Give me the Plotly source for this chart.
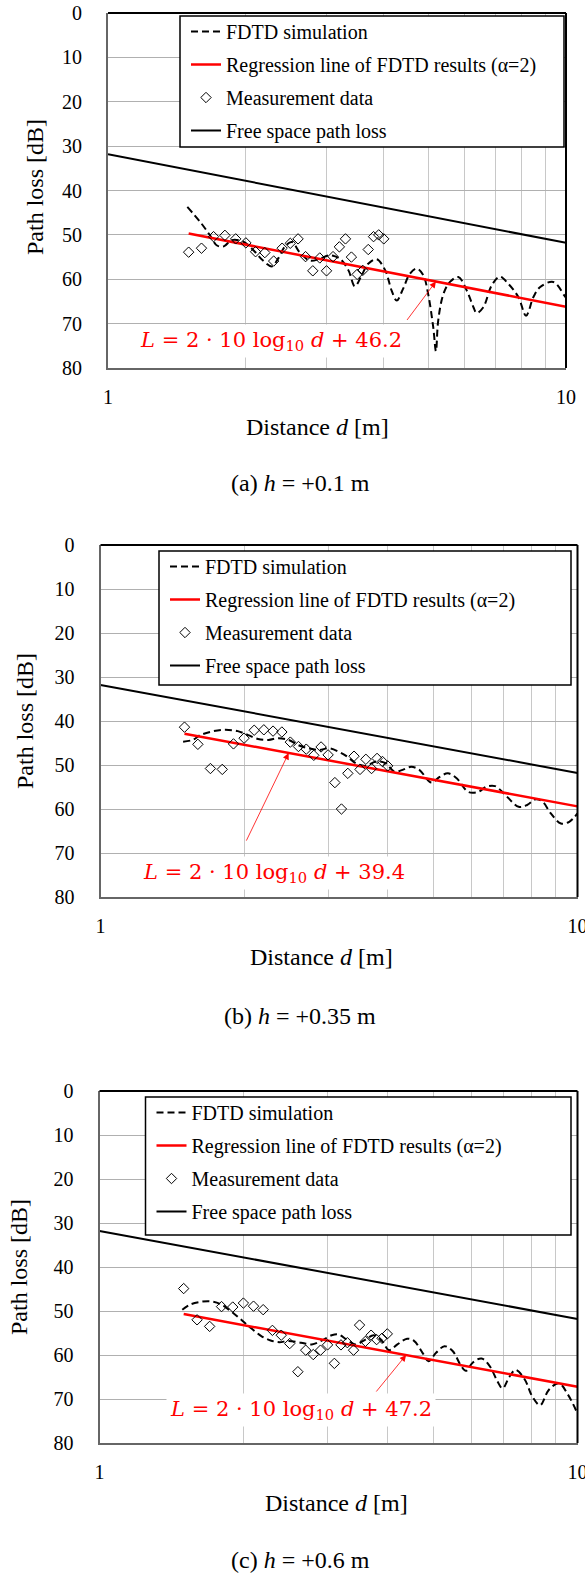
import numpy as np
import plotly.graph_objects as go

W, H = 585, 1574
FONTE = 'Liberation Serif, Times New Roman, serif'

# distancias das medicoes (iguais nos tres graficos)
d_medicao = [1.5, 1.6, 1.7, 1.8, 1.9, 2.0, 2.1, 2.2, 2.3, 2.4, 2.5, 2.6, 2.7,
             2.8, 2.9, 3.0, 3.1, 3.2, 3.3, 3.4, 3.5, 3.6, 3.7, 3.8, 3.9, 4.0]

# (a) h = +0.1 m
med_a = [53.9, 53.0, 50.4, 50.1, 50.9, 51.8, 53.8, 54.0, 55.9, 53.0, 51.9, 50.9, 54.9,
         58.1, 55.2, 58.1, 54.9, 52.7, 50.9, 55.0, 58.9, 58.0, 53.3, 50.4, 50.0, 50.9]
fdtd_a_d = [1.49, 1.59, 1.67, 1.73, 1.79, 1.86, 1.97, 2.08, 2.18, 2.28, 2.35, 2.43, 2.52,
            2.62, 2.76, 2.90, 3.05, 3.21, 3.35, 3.46, 3.58, 3.70, 3.86, 4.03, 4.16, 4.27,
            4.41, 4.56, 4.72, 4.88, 5.00, 5.13, 5.20, 5.26, 5.40, 5.58, 5.82, 6.07, 6.28,
            6.38, 6.60, 6.88, 7.17, 7.48, 7.87, 8.18, 8.49, 8.77, 9.38, 9.92, 10.0]
fdtd_a_L = [43.7, 47.1, 50.1, 52.4, 52.6, 51.2, 51.5, 53.5, 55.8, 57.1, 55.4, 52.7, 51.6,
            53.9, 55.8, 55.4, 54.6, 55.4, 58.0, 61.6, 59.1, 56.5, 55.5, 58.0, 62.5, 64.8,
            62.1, 58.8, 57.6, 59.1, 63.3, 70.8, 76.2, 69.3, 63.3, 60.6, 59.5, 62.5, 66.3,
            67.6, 66.3, 61.4, 59.4, 61.0, 64.0, 68.2, 64.0, 61.8, 60.6, 63.7, 64.2]

# (b) h = +0.35 m
med_b = [41.4, 45.3, 50.8, 51.0, 45.2, 43.9, 42.1, 42.0, 42.3, 42.5, 44.8, 45.8, 46.4,
         47.8, 45.9, 47.7, 54.0, 60.0, 51.9, 48.0, 51.0, 48.7, 50.8, 48.5, 49.2, 50.2]
fdtd_b_d = [1.49, 1.56, 1.62, 1.71, 1.82, 1.94, 2.04, 2.14, 2.25, 2.36, 2.48, 2.60, 2.73,
            2.87, 3.01, 3.16, 3.29, 3.43, 3.60, 3.78, 3.96, 4.13, 4.30, 4.48, 4.66, 4.94,
            5.14, 5.35, 5.58, 5.90, 6.19, 6.45, 6.72, 7.00, 7.53, 7.84, 8.17, 8.44, 8.79,
            9.23, 9.61, 10.0]
fdtd_b_L = [44.7, 44.3, 43.2, 42.4, 42.0, 42.3, 43.2, 44.1, 44.3, 43.9, 44.3, 45.5, 46.2,
            46.6, 46.2, 47.0, 48.1, 49.6, 50.2, 49.2, 49.6, 51.5, 51.1, 50.4, 51.1, 54.0,
            52.7, 51.9, 53.0, 56.1, 56.1, 54.9, 54.8, 56.4, 59.5, 59.1, 57.8, 58.3, 61.0,
            63.3, 62.9, 61.0]

# (c) h = +0.6 m
med_c = [44.9, 52.0, 53.5, 49.0, 49.1, 48.2, 48.9, 49.7, 54.4, 55.5, 57.4, 63.8, 58.9,
         59.9, 58.9, 57.7, 61.9, 57.7, 57.2, 58.9, 53.2, 56.9, 55.5, 56.5, 56.2, 55.2]
fdtd_c_d = [1.49, 1.55, 1.63, 1.71, 1.79, 1.88, 1.97, 2.07, 2.18, 2.28, 2.38, 2.48, 2.64,
            2.78, 2.91, 3.06, 3.16, 3.29, 3.43, 3.60, 3.75, 3.90, 4.03, 4.20, 4.40, 4.55,
            4.74, 4.88, 5.06, 5.27, 5.48, 5.71, 5.84, 6.04, 6.30, 6.55, 6.80, 6.97, 7.20,
            7.42, 7.75, 8.05, 8.35, 8.70, 9.14, 9.55, 10.0]
fdtd_c_L = [49.7, 48.5, 47.9, 47.8, 48.4, 50.0, 51.8, 53.8, 55.7, 56.7, 57.1, 56.8, 57.2,
            57.6, 56.8, 55.5, 55.3, 56.5, 57.6, 56.5, 55.5, 56.8, 58.9, 57.6, 56.3, 56.8,
            59.5, 61.4, 59.5, 58.0, 59.1, 62.5, 63.6, 61.7, 60.8, 62.5, 66.0, 67.6, 65.0,
            63.4, 65.5, 69.5, 71.4, 68.0, 66.4, 69.0, 73.3]

# retas de regressao (alpha=2) e perda no espaco livre
reg_d = [1.5, 10.0]
reg_a = [49.7, 66.2]
reg_b = [42.9, 59.4]
reg_c = [50.7, 67.2]
livre_d = [1.0, 10.0]
livre_L = [31.8, 51.8]

formulas = ['46.2', '39.4', '47.2']
legendas = ['(a) <i>h</i> = +0.1 m', '(b) <i>h</i> = +0.35 m', '(c) <i>h</i> = +0.6 m']

# caixas em pixels: (esq, dir, topo, base)
caixas = [(108, 566, 13, 368), (100.5, 577.5, 545, 897), (99.5, 577.5, 1091, 1443)]
caixas_legenda = [(180, 564, 16, 147), (159, 571, 551, 685), (145.5, 571, 1097, 1235)]


def px(x, y):
    # pixel -> coordenada paper
    return x / W, 1 - y / H


fig = go.Figure()

dados = [
    (fdtd_a_d, fdtd_a_L, reg_a, med_a),
    (fdtd_b_d, fdtd_b_L, reg_b, med_b),
    (fdtd_c_d, fdtd_c_L, reg_c, med_c),
]

for i, (fd, fl, reg, med) in enumerate(dados):
    n = '' if i == 0 else str(i + 1)
    eixos = dict(xaxis='x' + n, yaxis='y' + n, legend='legend' + n)

    fig.add_trace(go.Scatter(x=fd, y=fl, mode='lines', line_shape='spline',
                             line=dict(color='black', width=2, dash='7px,4px'),
                             name='FDTD simulation', legendgroup='g1' + n, **eixos))
    fig.add_trace(go.Scatter(x=reg_d, y=reg, mode='lines',
                             line=dict(color='#ff0000', width=2.5),
                             name='Regression line of FDTD results (α=2)',
                             legendgroup='g2' + n, **eixos))
    fig.add_trace(go.Scatter(x=d_medicao, y=med, mode='markers',
                             marker=dict(symbol='diamond-open', size=8, color='black',
                                         line=dict(width=1)),
                             name='Measurement data', legendgroup='g3' + n, **eixos))
    fig.add_trace(go.Scatter(x=livre_d, y=livre_L, mode='lines',
                             line=dict(color='black', width=2),
                             name='Free space path loss', legendgroup='g4' + n, **eixos))

    esq, dir_, topo, base = caixas[i]
    x0, y1 = px(esq, topo)
    x1, y0 = px(dir_, base)
    lgx, lgy = px(caixas_legenda[i][0] + 6, caixas_legenda[i][2] - 4)

    fig.update_layout(**{
        'xaxis' + n: dict(type='log', range=[0, 1], domain=[x0, x1], anchor='y' + n,
                          tickvals=list(range(1, 11)),
                          ticktext=['1', '', '', '', '', '', '', '', '', '10'],
                          ticklabeloverflow='allow',
                          showgrid=True, gridcolor='#c8c8c8', gridwidth=1.3,
                          showline=True, linecolor='#666666', linewidth=2,
                          ticks='outside', ticklen=10, tickcolor='rgba(0,0,0,0)',
                          tickfont=dict(family=FONTE, size=20, color='black'),
                          zeroline=False),
        'yaxis' + n: dict(range=[80, 0], domain=[y0, y1], anchor='x' + n,
                          tickvals=list(range(0, 81, 10)),
                          showgrid=True, gridcolor='#b0b0b0', gridwidth=1.3,
                          showline=True, linecolor='#666666', linewidth=2,
                          ticks='outside', ticklen=20, tickcolor='rgba(0,0,0,0)',
                          tickfont=dict(family=FONTE, size=20, color='black'),
                          zeroline=False),
        'legend' + n: dict(x=lgx, y=lgy,
                           xanchor='left', yanchor='top', bgcolor='rgba(0,0,0,0)',
                           borderwidth=0, traceorder='grouped', tracegroupgap=4,
                           font=dict(family=FONTE, size=20, color='black')),
    })

    # borda de cima e da direita em preto
    for sx0, sy0, sx1, sy1 in [(0, 1, 1, 1), (1, 0, 1, 1)]:
        fig.add_shape(type='line', xref='x' + n + ' domain', yref='y' + n + ' domain',
                      x0=sx0, y0=sy0, x1=sx1, y1=sy1, line=dict(color='black', width=2))

    # caixa da legenda
    lx0, ly1 = px(caixas_legenda[i][0], caixas_legenda[i][2])
    lx1, ly0 = px(caixas_legenda[i][1], caixas_legenda[i][3])
    fig.add_shape(type='rect', xref='paper', yref='paper', x0=lx0, y0=ly0, x1=lx1, y1=ly1,
                  line=dict(color='black', width=1.5), fillcolor='white', layer='above')

fig.update_layout(width=W, height=H,
                  margin=dict(l=0, r=0, t=0, b=0, autoexpand=False),
                  plot_bgcolor='white', paper_bgcolor='white')

anot = []
centro = dict(xref='paper', yref='paper', xanchor='center', yanchor='middle',
              showarrow=False)
# titulos dos eixos e legendas das figuras
titulo_y = [(35, 187), (25, 721), (19, 1267)]
titulo_x = [(317, 427), (321, 957), (336, 1503)]
legenda_xy = [(300, 483), (300, 1016), (300, 1560)]
for i in range(3):
    x, y = px(*titulo_y[i])
    anot.append(dict(x=x, y=y, text='Path loss [dB]', textangle=-90,
                     font=dict(family=FONTE, size=24, color='black'), **centro))
    x, y = px(*titulo_x[i])
    anot.append(dict(x=x, y=y, text='Distance <i>d</i> [m]',
                     font=dict(family=FONTE, size=24, color='black'), **centro))
    x, y = px(*legenda_xy[i])
    anot.append(dict(x=x, y=y, text=legendas[i],
                     font=dict(family=FONTE, size=24, color='black'), **centro))

# formulas da regressao
formula_xy = [(271, 341), (274, 873), (301, 1410)]
# seta: ponta (d, L) sobre a reta e deslocamento da cauda em pixels
setas = [(5.2, 60.5, -30, 40), (2.48, 47.3, -43, 89), (4.38, 60.0, -31, 38)]
for i in range(3):
    x, y = px(*formula_xy[i])
    anot.append(dict(x=x, y=y,
                     text='<i>L</i> = 2 · 10 log<sub>10</sub> <i>d</i> + ' + formulas[i],
                     bgcolor='white', borderpad=3,
                     font=dict(family='DejaVu Serif', size=21, color='#ff0000'), **centro))
    n = '' if i == 0 else str(i + 1)
    d, L, ax, ay = setas[i]
    anot.append(dict(x=np.log10(d), y=L, xref='x' + n, yref='y' + n, text='',
                     showarrow=True, ax=ax, ay=ay, arrowcolor='#ff0000',
                     arrowwidth=0.8, arrowhead=2, arrowsize=1.6))

fig.update_layout(annotations=anot)

# tira a margem padrao do <body> para o grafico ocupar a janela exata
fig.write_html('out.html', config={'displayModeBar': False},
               post_script="document.body.style.margin='0';"
                           "document.body.style.overflow='hidden';")
